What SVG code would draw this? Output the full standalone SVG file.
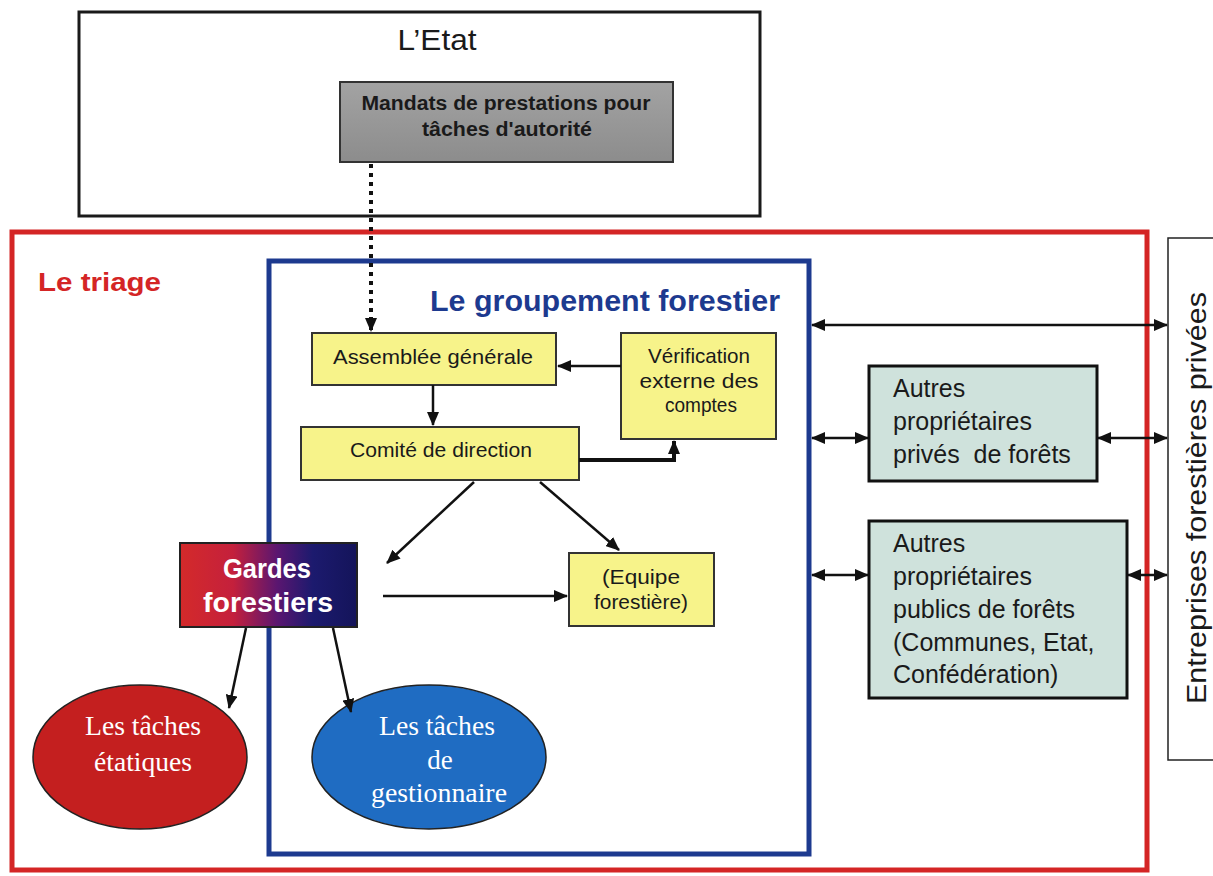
<svg xmlns="http://www.w3.org/2000/svg" width="1213" height="876" viewBox="0 0 1213 876">
<defs>
<linearGradient id="gGray" x1="0" y1="0" x2="0" y2="1"><stop offset="0" stop-color="#a3a3a3"/><stop offset="1" stop-color="#8c8c8c"/></linearGradient>
<linearGradient id="gGarde" x1="0" y1="0" x2="1" y2="0"><stop offset="0" stop-color="#d42a2a"/><stop offset="0.3" stop-color="#c4203c"/><stop offset="0.55" stop-color="#5a1670"/><stop offset="0.75" stop-color="#1c1a6e"/><stop offset="1" stop-color="#14145a"/></linearGradient>
<marker id="ah" viewBox="0 0 14 12" refX="13" refY="6" markerWidth="14" markerHeight="12" markerUnits="userSpaceOnUse" orient="auto-start-reverse"><path d="M0,0 L14,6 L0,12 z" fill="#111"/></marker>
<style>
.narrow{font-family:"Liberation Sans Narrow","Liberation Sans",Arial,sans-serif;fill:#1a1a1a}
.sans{font-family:"Liberation Sans",Arial,sans-serif;fill:#1a1a1a}
.serif{font-family:"Liberation Serif","Times New Roman",serif;fill:#fff}
.yel{fill:#f7f38a;stroke:#333;stroke-width:2}
.teal{fill:#cfe2dc;stroke:#111;stroke-width:3}
.con{stroke:#111;stroke-width:2.5;fill:none}
</style>
</defs>
<rect width="1213" height="876" fill="#fff"/>

<g id="etat">
<rect x="79" y="12" width="681" height="204" fill="#fff" stroke="#1a1a1a" stroke-width="3"/>
<text class="narrow" x="437" y="50" font-size="29" text-anchor="middle" textLength="79" lengthAdjust="spacingAndGlyphs">L’Etat</text>
</g>

<g id="mandats">
<rect x="340" y="82" width="333" height="80" fill="url(#gGray)" stroke="#333" stroke-width="2"/>
<text class="narrow" font-weight="bold" font-size="20" text-anchor="middle"><tspan x="506" y="110" textLength="289" lengthAdjust="spacingAndGlyphs">Mandats de prestations pour</tspan><tspan x="507" y="136" textLength="170" lengthAdjust="spacingAndGlyphs">tâches d'autorité</tspan></text>
</g>

<g id="triage">
<rect x="12" y="232" width="1135" height="638" fill="none" stroke="#d42525" stroke-width="5"/>
<text class="sans" x="38" y="291" font-size="26" font-weight="bold" style="fill:#d42525" textLength="123" lengthAdjust="spacingAndGlyphs">Le triage</text>
</g>

<g id="groupement">
<rect x="269" y="261" width="540" height="593" fill="none" stroke="#1d3a8f" stroke-width="5"/>
<text class="narrow" x="430" y="311" font-size="29" font-weight="bold" style="fill:#1d3a8f" textLength="350" lengthAdjust="spacingAndGlyphs">Le groupement forestier</text>
</g>

<g id="entreprises">
<rect x="1168" y="238" width="60" height="522" fill="#fff" stroke="#222" stroke-width="1.5"/>
<text class="sans" transform="translate(1206,498) rotate(-90)" font-size="27" text-anchor="middle" textLength="412" lengthAdjust="spacingAndGlyphs">Entreprises forestières privées</text>
</g>

<g id="assemblee">
<rect class="yel" x="312" y="333" width="244" height="52"/>
<text class="narrow" x="433" y="364" font-size="21" text-anchor="middle" textLength="200" lengthAdjust="spacingAndGlyphs">Assemblée générale</text>
</g>

<g id="verification">
<rect class="yel" x="621" y="333" width="155" height="106"/>
<text class="narrow" font-size="21" text-anchor="middle"><tspan x="699" y="363" textLength="102" lengthAdjust="spacingAndGlyphs">Vérification</tspan><tspan x="699" y="388" textLength="119" lengthAdjust="spacingAndGlyphs">externe des</tspan><tspan x="701" y="412" textLength="72" lengthAdjust="spacingAndGlyphs">comptes</tspan></text>
</g>

<g id="comite">
<rect class="yel" x="301" y="427" width="278" height="53"/>
<text class="narrow" x="441" y="457" font-size="21" text-anchor="middle" textLength="182" lengthAdjust="spacingAndGlyphs">Comité de direction</text>
</g>

<g id="equipe">
<rect class="yel" x="569" y="553" width="145" height="73"/>
<text class="narrow" font-size="21" text-anchor="middle"><tspan x="641" y="584" textLength="78" lengthAdjust="spacingAndGlyphs">(Equipe</tspan><tspan x="641" y="609" textLength="94" lengthAdjust="spacingAndGlyphs">forestière)</tspan></text>
</g>

<g id="gardes">
<rect x="180" y="543" width="177" height="84" fill="url(#gGarde)" stroke="#222" stroke-width="2"/>
<text class="sans" font-size="27" font-weight="bold" text-anchor="middle" style="fill:#fff"><tspan x="267" y="578" textLength="88" lengthAdjust="spacingAndGlyphs">Gardes</tspan><tspan x="268" y="612" textLength="130" lengthAdjust="spacingAndGlyphs">forestiers</tspan></text>
</g>

<g id="etatiques">
<ellipse cx="140" cy="757" rx="107" ry="72" fill="#c41f1f" stroke="#222" stroke-width="1.5"/>
<text class="serif" font-size="27" text-anchor="middle"><tspan x="143" y="735" textLength="116" lengthAdjust="spacingAndGlyphs">Les tâches</tspan><tspan x="143" y="771" textLength="98" lengthAdjust="spacingAndGlyphs">étatiques</tspan></text>
</g>

<g id="gestionnaire">
<ellipse cx="429" cy="757" rx="117" ry="72" fill="#1f6cc2" stroke="#222" stroke-width="1.5"/>
<text class="serif" font-size="27" text-anchor="middle"><tspan x="437" y="735" textLength="116" lengthAdjust="spacingAndGlyphs">Les tâches</tspan><tspan x="440" y="769">de</tspan><tspan x="439" y="802" textLength="136" lengthAdjust="spacingAndGlyphs">gestionnaire</tspan></text>
</g>

<g id="prives">
<rect class="teal" x="869" y="366" width="228" height="115"/>
<text class="sans" font-size="25"><tspan x="893" y="397">Autres</tspan><tspan x="893" y="430">propriétaires</tspan><tspan x="893" y="463" xml:space="preserve">privés  de forêts</tspan></text>
</g>

<g id="publics">
<rect class="teal" x="869" y="521" width="258" height="177"/>
<text class="sans" font-size="25"><tspan x="893" y="552">Autres</tspan><tspan x="893" y="585">propriétaires</tspan><tspan x="893" y="618">publics de forêts</tspan><tspan x="893" y="651">(Communes, Etat,</tspan><tspan x="893" y="683">Confédération)</tspan></text>
</g>

<g id="connectors">
<line x1="371" y1="164" x2="371" y2="331" stroke="#111" stroke-width="4" stroke-dasharray="4 5" marker-end="url(#ah)"/>
<line class="con" x1="621" y1="366" x2="558" y2="366" marker-end="url(#ah)"/>
<line class="con" x1="433" y1="385" x2="433" y2="425" marker-end="url(#ah)"/>
<polyline points="579,460 674,460 674,441" fill="none" stroke="#111" stroke-width="4" marker-end="url(#ah)"/>
<line class="con" x1="474" y1="482" x2="387" y2="563" marker-end="url(#ah)"/>
<line class="con" x1="540" y1="482" x2="619" y2="550" marker-end="url(#ah)"/>
<line class="con" x1="383" y1="596" x2="567" y2="596" marker-end="url(#ah)"/>
<line class="con" x1="246" y1="628" x2="229" y2="708" marker-end="url(#ah)"/>
<line class="con" x1="333" y1="628" x2="351" y2="712" marker-end="url(#ah)"/>
<line class="con" x1="812" y1="325" x2="1167" y2="325" marker-start="url(#ah)" marker-end="url(#ah)"/>
<line class="con" x1="812" y1="438" x2="868" y2="438" marker-start="url(#ah)" marker-end="url(#ah)"/>
<line class="con" x1="1098" y1="438" x2="1167" y2="438" marker-start="url(#ah)" marker-end="url(#ah)"/>
<line class="con" x1="812" y1="575" x2="868" y2="575" marker-start="url(#ah)" marker-end="url(#ah)"/>
<line class="con" x1="1128" y1="575" x2="1167" y2="575" marker-start="url(#ah)" marker-end="url(#ah)"/>
</g>
</svg>
